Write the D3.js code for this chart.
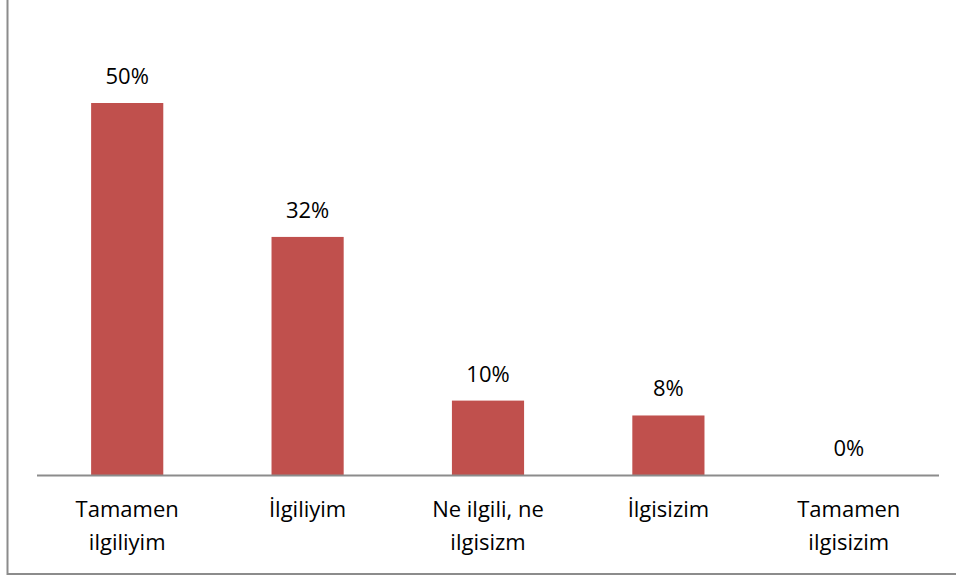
<!DOCTYPE html>
<html>
<head>
<meta charset="utf-8">
<script src="https://cdn.jsdelivr.net/npm/d3@7"></script>
<style>
  body { margin: 0; background: #fff; }
  svg { display: block; }
  text { font-family: "Open Sans", "DejaVu Sans", sans-serif; fill: #000; }
</style>
</head>
<body>
<div id="chart"></div>
<script>
// Categories (two-line labels) and percentages
const categories = ["Tamamen ilgiliyim", "İlgiliyim", "Ne ilgili, ne ilgisizm", "İlgisizim", "Tamamen ilgisizim"];
const labelLines = [["Tamamen", "ilgiliyim"], ["İlgiliyim"], ["Ne ilgili, ne", "ilgisizm"], ["İlgisizim"], ["Tamamen", "ilgisizim"]];
const values = [50, 32, 10, 8, 0];

const W = 956, H = 579;
const svg = d3.select("#chart")
    .append("svg")
    .attr("width", W)
    .attr("height", H);

// outer frame (right/top edges fall outside the picture)
svg.append("rect")
    .attr("x", 7.5)
    .attr("y", -10)
    .attr("width", 970)
    .attr("height", 584)
    .attr("fill", "none")
    .attr("stroke", "#8c8c8c")
    .attr("stroke-width", 2);

const margin = { left: 37, right: 17, top: 103, bottom: 104 };
const plotBottom = H - margin.bottom; // baseline ~475

const x = d3.scaleBand()
    .domain(categories)
    .range([margin.left, W - margin.right])
    .paddingInner(0.6)
    .paddingOuter(0.3);

const y = d3.scaleLinear()
    .domain([0, 50])
    .range([plotBottom, margin.top]);

// bars
svg.selectAll("rect.bar")
    .data(values)
    .enter().append("rect")
    .attr("class", "bar")
    .attr("x", (d, i) => x(categories[i]))
    .attr("y", d => y(d))
    .attr("width", x.bandwidth())
    .attr("height", d => y(0) - y(d))
    .attr("fill", "#c0504d");

// baseline axis
svg.append("line")
    .attr("x1", margin.left)
    .attr("x2", W - margin.right)
    .attr("y1", plotBottom + 0.5)
    .attr("y2", plotBottom + 0.5)
    .attr("stroke", "#8c8c8c")
    .attr("stroke-width", 2);

// value labels
svg.selectAll("text.val")
    .data(values)
    .enter().append("text")
    .attr("class", "val")
    .attr("x", (d, i) => x(categories[i]) + x.bandwidth() / 2)
    .attr("y", d => y(d) - 19)
    .attr("text-anchor", "middle")
    .style("font-size", "22px")
    .text(d => d + "%");

// category labels
const cat = svg.selectAll("text.cat")
    .data(categories)
    .enter().append("text")
    .attr("class", "cat")
    .attr("x", d => x(d) + x.bandwidth() / 2)
    .attr("y", plotBottom + 42)
    .attr("text-anchor", "middle")
    .style("font-size", "22px");

cat.selectAll("tspan")
    .data((d, i) => labelLines[i])
    .enter().append("tspan")
    .attr("x", function () { return d3.select(this.parentNode).attr("x"); })
    .attr("dy", (d, j) => j === 0 ? 0 : 33)
    .text(d => d);
</script>
</body>
</html>
